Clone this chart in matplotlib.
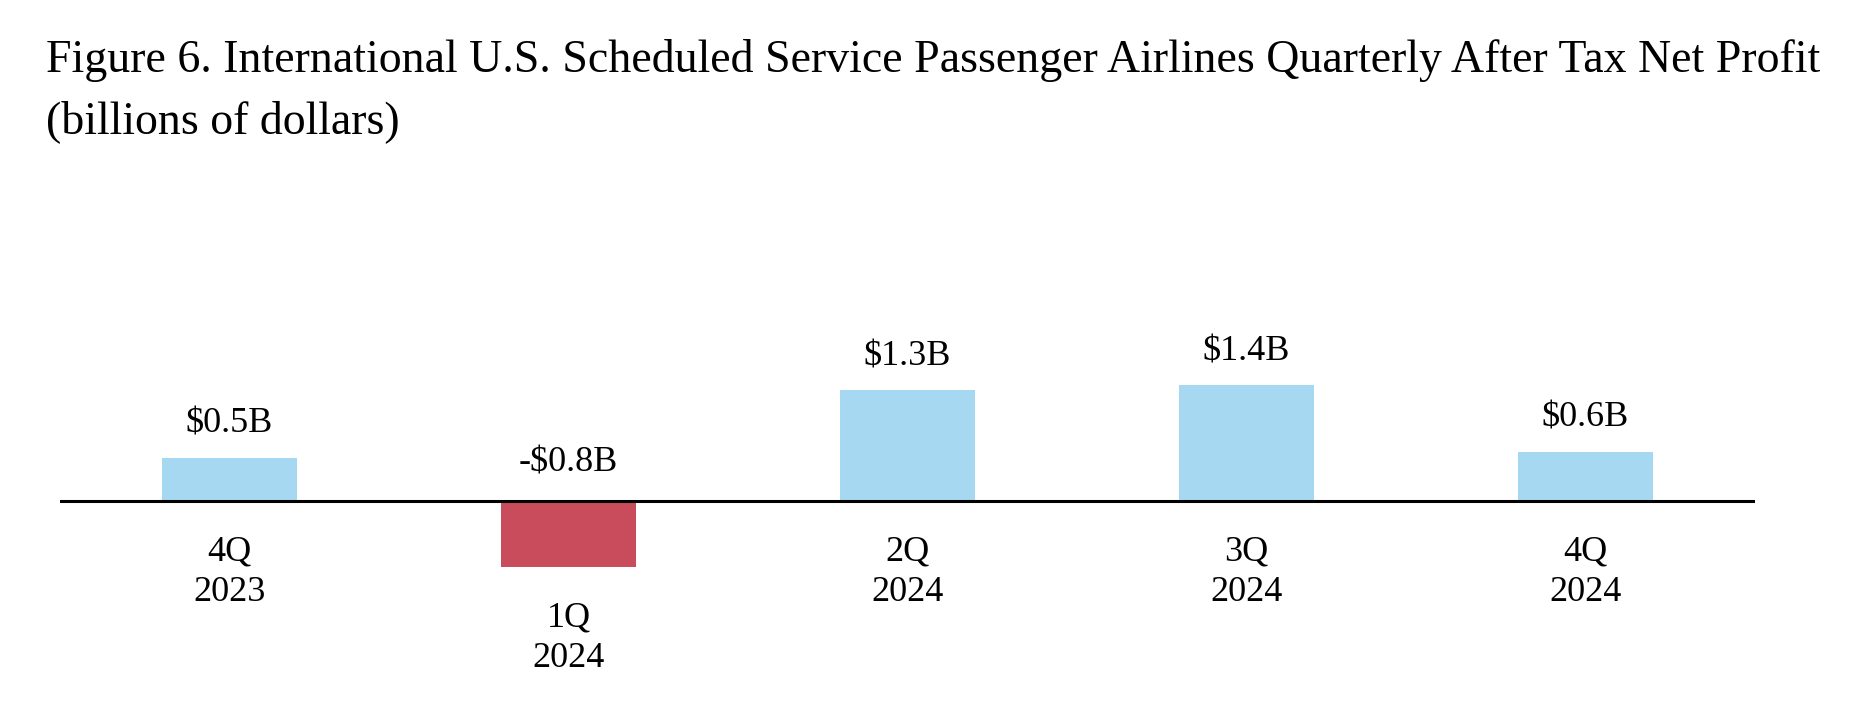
import matplotlib
matplotlib.use('Agg')
import matplotlib.pyplot as plt

plt.rcParams['font.family'] = ['Liberation Serif', 'DejaVu Serif']

# Data
quarters = ['4Q\n2023', '1Q\n2024', '2Q\n2024', '3Q\n2024', '4Q\n2024']
profit = [0.52, -0.80, 1.33, 1.39, 0.59]  # billions of dollars

title_line1 = ('Figure 6. International U.S. Scheduled Service Passenger '
               'Airlines Quarterly After Tax Net Profit')
title_line2 = '(billions of dollars)'

pos_color = '#A6D8F2'
neg_color = '#C94C5C'


def money_label(v):
    sign = '-' if v < 0 else ''
    return f'{sign}${abs(v):.1f}B'


fig = plt.figure(figsize=(18.67, 7.15), dpi=100)
ax = fig.add_axes([60 / 1867, 0.0, 1695 / 1867, 0.7])

x = range(len(quarters))
colors = [pos_color if v >= 0 else neg_color for v in profit]
ax.bar(x, profit, width=0.4, color=colors, zorder=1)
ax.axhline(0, color='black', linewidth=2.2, zorder=2)

ax.set_xlim(-0.5, len(quarters) - 0.5)
ax.set_ylim(-2.58, 3.45)
ax.axis('off')

for i, v in enumerate(profit):
    # value label above the bar (or above the zero line for losses)
    top = max(v, 0)
    ax.annotate(money_label(v), (i, top), xytext=(0, 18 if v >= 0 else 21),
                textcoords='offset points', ha='center', va='baseline',
                fontsize=26)
    # category label below the zero line (or below the bar for losses)
    bottom = min(v, 0)
    ax.annotate(quarters[i], (i, bottom), xytext=(0, -25),
                textcoords='offset points', ha='center', va='top',
                fontsize=26, linespacing=1.3)

fig.text(46 / 1867, 1 - 72 / 715, title_line1, fontsize=33, va='baseline', ha='left')
fig.text(46 / 1867, 1 - 133 / 715, title_line2, fontsize=33, va='baseline', ha='left')

fig.savefig('out.png', dpi=100)
